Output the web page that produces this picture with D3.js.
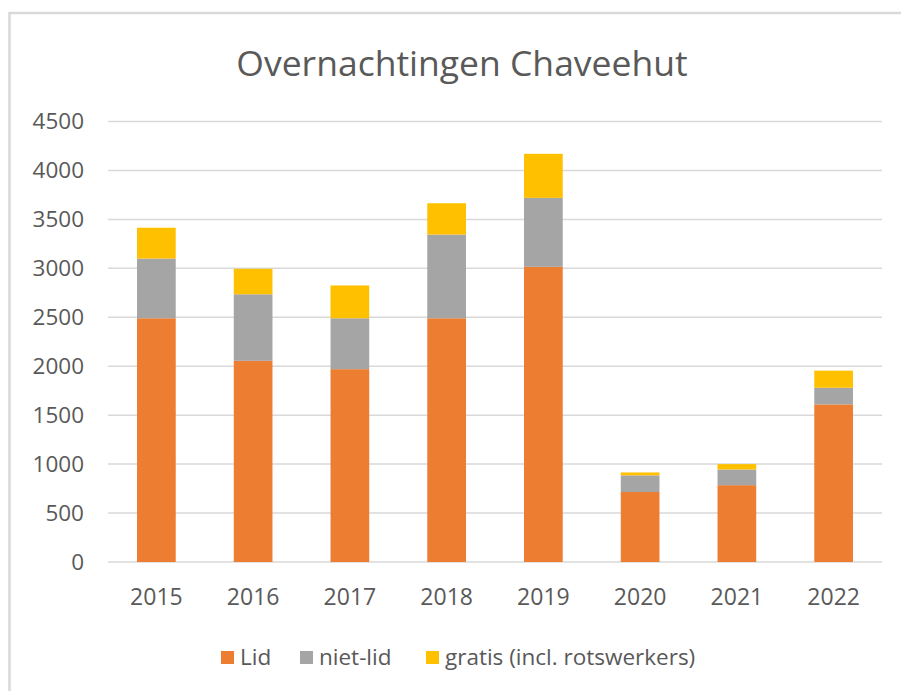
<!DOCTYPE html>
<html>
<head>
<meta charset="utf-8">
<script src="https://cdn.jsdelivr.net/npm/d3@7"></script>
<style>
  body { margin: 0; background: #fff; }
  svg { display: block; font-family: "Open Sans", "Noto Sans", sans-serif; }
</style>
</head>
<body>
<div id="chart"></div>
<script>
var years = ["2015", "2016", "2017", "2018", "2019", "2020", "2021", "2022"];
var lid = [2490, 2055, 1970, 2490, 3015, 715, 785, 1610];
var nietLid = [610, 680, 520, 855, 705, 170, 160, 170];
var gratis = [315, 260, 335, 320, 450, 30, 55, 175];
var seriesNames = ["Lid", "niet-lid", "gratis (incl. rotswerkers)"];
var seriesColors = ["#ED7D31", "#A5A5A5", "#FFC000"];
var yTicks = [0, 500, 1000, 1500, 2000, 2500, 3000, 3500, 4000, 4500];

var width = 901, height = 691;
var svg = d3.select("#chart").append("svg")
    .attr("width", width)
    .attr("height", height);

// chart frame
svg.append("rect")
    .attr("x", 9.5).attr("y", 13)
    .attr("width", 1000).attr("height", 1000)
    .attr("fill", "none")
    .attr("stroke", "#D9D9D9")
    .attr("stroke-width", 2.5);

svg.append("text")
    .attr("x", 462)
    .attr("y", 76)
    .attr("text-anchor", "middle")
    .attr("font-size", 35.5)
    .attr("fill", "#595959")
    .text("Overnachtingen Chaveehut");

var x = d3.scaleBand()
    .domain(years)
    .range([108, 882])
    .paddingInner(0.6)
    .paddingOuter(0.3);

var y = d3.scaleLinear()
    .domain([0, 4500])
    .range([562, 121.5]);

// gridlines
svg.append("g").selectAll("line")
    .data(yTicks)
    .join("line")
    .attr("x1", 108).attr("x2", 882)
    .attr("y1", d => y(d)).attr("y2", d => y(d))
    .attr("stroke", "#D9D9D9")
    .attr("stroke-width", 1.5);

var yAxis = svg.append("g")
    .attr("transform", "translate(108,0)")
    .call(d3.axisLeft(y).tickValues(yTicks).tickFormat(d3.format("d")).tickSize(0).tickPadding(24));
yAxis.select(".domain").remove();
yAxis.selectAll("text")
    .attr("font-size", 22.5)
    .attr("font-family", "Open Sans")
    .attr("fill", "#595959");

var xAxis = svg.append("g")
    .attr("transform", "translate(0,562)")
    .call(d3.axisBottom(x).tickSize(0).tickPadding(27));
xAxis.select(".domain").remove();
xAxis.selectAll("text")
    .attr("font-size", 23)
    .attr("font-family", "Open Sans")
    .attr("fill", "#595959");

var rows = years.map(function (yr, i) {
    return { year: yr, lid: lid[i], niet: nietLid[i], gratis: gratis[i] };
});
var stack = d3.stack().keys(["lid", "niet", "gratis"])(rows);

svg.append("g").selectAll("g")
    .data(stack)
    .join("g")
    .attr("fill", (d, i) => seriesColors[i])
    .selectAll("rect")
    .data(d => d)
    .join("rect")
    .attr("x", d => x(d.data.year))
    .attr("width", x.bandwidth())
    .attr("y", d => y(d[1]))
    .attr("height", d => y(d[0]) - y(d[1]));

// legend
var legendX = [221, 300, 426];
var legend = svg.append("g").selectAll("g")
    .data(seriesNames)
    .join("g")
    .attr("transform", (d, i) => "translate(" + legendX[i] + ",651)");
legend.append("rect")
    .attr("width", 13).attr("height", 13)
    .attr("fill", (d, i) => seriesColors[i]);
legend.append("text")
    .attr("x", 19)
    .attr("y", 14)
    .attr("font-size", 22.5)
    .attr("fill", "#595959")
    .text(d => d);
</script>
</body>
</html>
